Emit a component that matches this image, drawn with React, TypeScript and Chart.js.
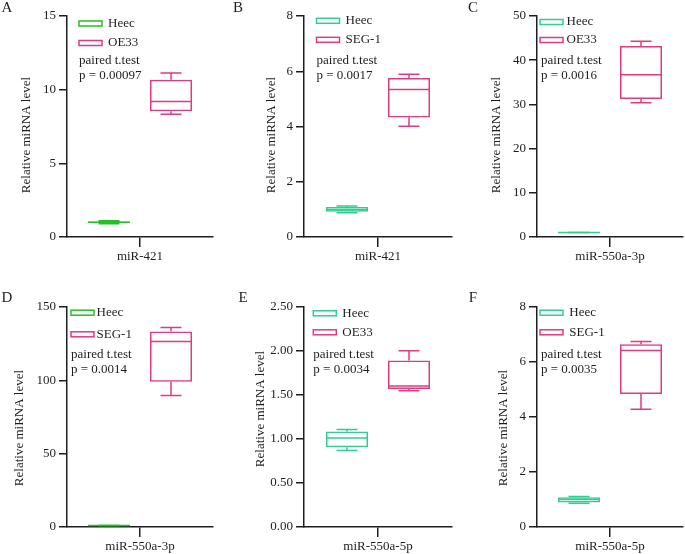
import React, { useEffect, useRef } from 'react';
import { Chart, registerables } from 'chart.js';

Chart.register(...registerables);

// ---------------- data ----------------
const panelLetters = ['A', 'B', 'C', 'D', 'E', 'F'];
const miRNAs = ['miR-421', 'miR-421', 'miR-550a-3p', 'miR-550a-3p', 'miR-550a-5p', 'miR-550a-5p'];
const controlLine = 'Heec';
const cancerLines = ['OE33', 'SEG-1', 'OE33', 'SEG-1', 'OE33', 'SEG-1'];
const testName = 'paired t.test';
const pValues = ['0.00097', '0.0017', '0.0016', '0.0014', '0.0034', '0.0035'];
const yMaxValues = [15, 8, 50, 150, 2.5, 8];
const yStepValues = [5, 2, 10, 50, 0.5, 2];
const yTickDecimals = [0, 0, 0, 0, 2, 0];
const yTitle = 'Relative miRNA level';
// five-number summaries: [min, q1, median, q3, max]
const heecStats = [
  [0.9, 0.95, 1.0, 1.05, 1.1],
  [0.88, 0.91, 0.99, 1.09, 1.12],
  [0.95, 0.98, 1.0, 1.02, 1.05],
  [0.8, 0.9, 1.0, 1.1, 1.2],
  [0.87, 0.905, 1.01, 1.086, 1.109],
  [0.86, 0.89, 1.0, 1.08, 1.11],
];
const cancerStats = [
  [8.33, 8.53, 9.2, 10.68, 11.13],
  [4.01, 4.33, 5.34, 5.76, 5.89],
  [30.4, 31.2, 36.7, 43.2, 44.3],
  [89.7, 99.0, 126.5, 133.3, 136.1],
  [1.549, 1.568, 1.602, 1.893, 2.003],
  [4.28, 4.84, 6.42, 6.65, 6.75],
];

// ---------------- styles / layout ----------------
const FONT = "'Liberation Serif', 'Times New Roman', serif";
const INK = '#1e1e1e';
const GREEN = '#22c022';
const TEAL = '#2dcf8e';
const PINK = '#e13a80';
const controlColors = [GREEN, TEAL, TEAL, GREEN, TEAL, TEAL];

type Layout = {
  left: number; top: number; width: number; height: number;
  axisX: number; plotRight: number; plotTop: number; plotBottom: number;
  title: [number, number]; letter: [number, number];
  boxX: number; textX: number; legY: [number, number]; noteX: number; noteY: [number, number];
};

const layouts: Layout[] = [
  { left: 0, top: 0, width: 225, height: 270, axisX: 67, plotRight: 213, plotTop: 16, plotBottom: 237,
    title: [27, 135], letter: [7, 8], boxX: 12, textX: 41, legY: [7.5, 27], noteX: 12, noteY: [45, 60] },
  { left: 225, top: 0, width: 230, height: 270, axisX: 304, plotRight: 452, plotTop: 16, plotBottom: 237,
    title: [272, 135], letter: [238, 8], boxX: 12.5, textX: 41.5, legY: [4.8, 23.8], noteX: 12.5, noteY: [45, 60] },
  { left: 455, top: 0, width: 230, height: 270, axisX: 537, plotRight: 683, plotTop: 16, plotBottom: 237,
    title: [497, 135], letter: [473, 8], boxX: 3, textX: 29.5, legY: [6, 24], noteX: 4, noteY: [45, 59.5] },
  { left: 0, top: 277, width: 225, height: 277, axisX: 67, plotRight: 213, plotTop: 307, plotBottom: 527,
    title: [20, 428], letter: [7, 298], boxX: 4, textX: 29.5, legY: [5.7, 27.3], noteX: 4, noteY: [47.3, 62.3] },
  { left: 225, top: 277, width: 230, height: 277, axisX: 304, plotRight: 452, plotTop: 307, plotBottom: 527,
    title: [261, 409], letter: [243, 298], boxX: 9.3, textX: 38.3, legY: [6.3, 25.3], noteX: 9.3, noteY: [48, 63] },
  { left: 455, top: 277, width: 230, height: 277, axisX: 537, plotRight: 683, plotTop: 307, plotBottom: 527,
    title: [504, 428], letter: [473, 298], boxX: 3, textX: 32.3, legY: [5.7, 25.3], noteX: 4, noteY: [48, 63] },
];

const decorPlugin = {
  id: 'decor',
  afterDatasetsDraw(chart: any) {
    const ctx = chart.ctx;
    const ys = chart.scales.y;
    chart.data.datasets.forEach((ds: any, i: number) => {
      const el = chart.getDatasetMeta(i).data[0];
      if (!el) return;
      const s = ds.stats as number[];
      const half = el.width / 2;
      const cap = half / 2;
      const pMin = ys.getPixelForValue(s[0]);
      const pQ1 = ys.getPixelForValue(s[1]);
      const pMed = ys.getPixelForValue(s[2]);
      const pQ3 = ys.getPixelForValue(s[3]);
      const pMax = ys.getPixelForValue(s[4]);
      ctx.save();
      ctx.strokeStyle = ds.borderColor;
      ctx.lineWidth = 1.5;
      ctx.beginPath();
      ctx.moveTo(el.x - half, pMed); ctx.lineTo(el.x + half, pMed);
      ctx.moveTo(el.x, pQ3); ctx.lineTo(el.x, pMax);
      ctx.moveTo(el.x - cap, pMax); ctx.lineTo(el.x + cap, pMax);
      ctx.moveTo(el.x, pQ1); ctx.lineTo(el.x, pMin);
      ctx.moveTo(el.x - cap, pMin); ctx.lineTo(el.x + cap, pMin);
      ctx.stroke();
      ctx.restore();
    });
  },
  afterDraw(chart: any, _args: any, opts: any) {
    const ctx = chart.ctx;
    const L: Layout = opts.layout;
    const ax = L.axisX - L.left;
    const top = chart.chartArea.top;
    ctx.save();
    ctx.fillStyle = INK;
    // panel letter
    ctx.font = `15px ${FONT}`;
    ctx.textAlign = 'center';
    ctx.textBaseline = 'middle';
    ctx.fillText(opts.letter, L.letter[0] - L.left, L.letter[1] - L.top);
    // y title
    ctx.save();
    ctx.translate(L.title[0] - L.left, L.title[1] - L.top);
    ctx.rotate(-Math.PI / 2);
    ctx.font = `13px ${FONT}`;
    ctx.fillText(yTitle, 0, 0);
    ctx.restore();
    // legend
    ctx.font = `13px ${FONT}`;
    ctx.textAlign = 'left';
    ctx.textBaseline = 'middle';
    const items = [
      { label: opts.controlLabel, color: opts.controlColor },
      { label: opts.cancerLabel, color: PINK },
    ];
    items.forEach((it, k) => {
      const yy = top + L.legY[k];
      ctx.strokeStyle = it.color;
      ctx.lineWidth = 1.5;
      ctx.strokeRect(ax + L.boxX, yy - 2.5, 23, 5);
      ctx.fillStyle = INK;
      ctx.fillText(it.label, ax + L.textX, yy);
    });
    ctx.fillText(testName, ax + L.noteX, top + L.noteY[0]);
    ctx.fillText('p = ' + opts.pValue, ax + L.noteX, top + L.noteY[1]);
    ctx.restore();
  },
};

function Panel({ idx }: { idx: number }) {
  const ref = useRef<HTMLCanvasElement>(null);
  const L = layouts[idx];
  useEffect(() => {
    const canvas = ref.current;
    if (!canvas) return;
    const plotWidth = L.plotRight - L.axisX;
    const chunk = 62; // px per group slot
    const chart = new Chart(canvas, {
      type: 'bar',
      data: {
        labels: [miRNAs[idx]],
        datasets: [
          {
            label: controlLine,
            data: [[heecStats[idx][1], heecStats[idx][3]]] as any,
            stats: heecStats[idx],
            backgroundColor: 'rgba(255,255,255,0)',
            borderColor: controlColors[idx],
            borderWidth: 1.5,
            borderSkipped: false,
            categoryPercentage: (chunk * 2) / plotWidth,
            barPercentage: 42 / chunk,
          } as any,
          {
            label: cancerLines[idx],
            data: [[cancerStats[idx][1], cancerStats[idx][3]]] as any,
            stats: cancerStats[idx],
            backgroundColor: 'rgba(255,255,255,0)',
            borderColor: PINK,
            borderWidth: 1.5,
            borderSkipped: false,
            categoryPercentage: (chunk * 2) / plotWidth,
            barPercentage: 42 / chunk,
          } as any,
        ],
      },
      options: {
        animation: false,
        responsive: false,
        events: [],
        layout: {
          autoPadding: false,
          padding: {
            left: 0,
            top: L.plotTop - L.top,
            right: L.left + L.width - L.plotRight,
            bottom: 0,
          },
        },
        plugins: {
          legend: { display: false },
          tooltip: { enabled: false },
          decor: {
            layout: L,
            letter: panelLetters[idx],
            controlLabel: controlLine,
            controlColor: controlColors[idx],
            cancerLabel: cancerLines[idx],
            pValue: pValues[idx],
          },
        } as any,
        scales: {
          x: {
            type: 'category',
            offset: true,
            grid: {
              display: true,
              drawOnChartArea: false,
              drawTicks: true,
              tickLength: 10,
              offset: false,
              color: INK,
              lineWidth: 1.5,
            },
            border: { display: true, color: INK, width: 1.5 },
            ticks: { color: INK, font: { family: FONT, size: 13 }, padding: 2, maxRotation: 0 },
            afterFit: (s: any) => { s.height = L.top + L.height - L.plotBottom; },
          },
          y: {
            min: 0,
            max: yMaxValues[idx],
            grid: {
              display: true,
              drawOnChartArea: false,
              drawTicks: true,
              tickLength: 8,
              color: INK,
              lineWidth: 1.5,
            },
            border: { display: true, color: INK, width: 1.5 },
            ticks: {
              stepSize: yStepValues[idx],
              color: INK,
              font: { family: FONT, size: 13 },
              padding: 3,
              callback: (v: any) => Number(v).toFixed(yTickDecimals[idx]),
            },
            afterFit: (s: any) => { s.width = L.axisX - L.left; },
          },
        } as any,
      },
      plugins: [decorPlugin as any],
    });
    return () => chart.destroy();
  }, [idx]);
  return (
    <canvas
      ref={ref}
      width={L.width}
      height={L.height}
      style={{ position: 'absolute', left: L.left, top: L.top, width: L.width, height: L.height, display: 'block' }}
    />
  );
}

export default function App() {
  return (
    <div style={{ position: 'absolute', left: 0, top: 0, width: 685, height: 554, background: '#ffffff', overflow: 'hidden' }}>
      {panelLetters.map((_, i) => (
        <Panel key={i} idx={i} />
      ))}
    </div>
  );
}
